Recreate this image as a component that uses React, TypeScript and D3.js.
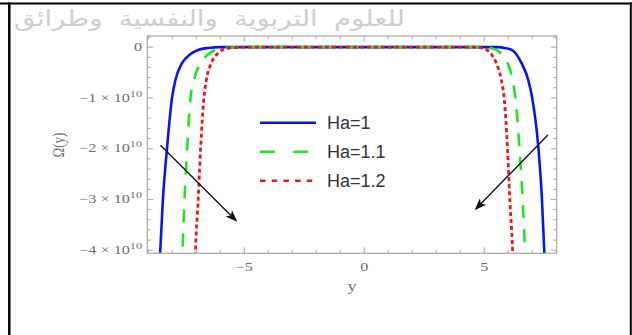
import { useRef, useEffect } from 'react'
import * as d3 from 'd3'

// Ω values in units of 1e10
const blue: [number, number][] = [
  [-8.56, -4.4], [-8.5, -4.0], [-8.39, -3.0], [-8.22, -2.0], [-8.01, -1.0], [-7.87, -0.65],
  [-7.6, -0.32], [-7.25, -0.14], [-6.9, -0.05], [-6.5, -0.015], [-6.0, 0], [5.5, 0],
  [5.9, -0.02], [6.2, -0.07], [6.55, -0.31], [6.83, -0.64], [7.0, -1.0], [7.26, -2.0],
  [7.4, -2.95], [7.5, -4.0], [7.54, -4.4],
]
const green: [number, number][] = [
  [-7.6, -4.4], [-7.56, -3.85], [-7.49, -3.0], [-7.38, -2.0], [-7.24, -1.0], [-7.1, -0.65],
  [-6.82, -0.32], [-6.45, -0.12], [-6.05, -0.04], [-5.6, -0.01], [-5.2, 0], [4.8, 0],
  [5.3, -0.02], [5.65, -0.1], [5.97, -0.31], [6.18, -0.64], [6.3, -1.0], [6.47, -2.0],
  [6.6, -3.0], [6.7, -4.0], [6.74, -4.4],
]
const red: [number, number][] = [
  [-7.06, -4.4], [-7.03, -3.97], [-6.92, -3.0], [-6.82, -2.0], [-6.68, -1.0], [-6.58, -0.65],
  [-6.38, -0.32], [-6.1, -0.12], [-5.77, -0.03], [-5.4, -0.01], [-5.0, 0], [4.5, 0],
  [4.8, -0.01], [5.05, -0.04], [5.3, -0.14], [5.5, -0.31], [5.71, -0.64], [5.83, -1.0],
  [5.97, -2.0], [6.06, -2.94], [6.18, -4.0], [6.21, -4.4],
]
const seriesNames = ['Ha=1', 'Ha=1.1', 'Ha=1.2']
const xTicks = [-5, 0, 5]
const yTicks = [0, -1, -2, -3, -4]
// annotation arrows: [x0, y0, x1, y1] in data units
const arrows = [
  [-8.49, -1.93, -5.29, -3.44],
  [7.65, -1.73, 4.6, -3.21],
]
const watermark = 'للعلوم التربوية والنفسية وطرائق'

export default function App() {
  const svgRef = useRef<SVGSVGElement>(null)

  useEffect(() => {
    const W = 632, H = 335
    const svg = d3.select(svgRef.current)
    svg.selectAll('*').remove()
    svg.attr('width', W).attr('height', H)

    const C = {
      frame: '#a8a8a8',
      tickText: '#6e6e6e',
      blue: '#0a14f0',
      green: '#1ee61e',
      red: '#f01414',
    }

    const x = d3.scaleLinear().domain([-9.04, 8.02]).range([147.3, 556.7])
    const y = d3.scaleLinear().domain([0.22, -4.06]).range([36, 253.3])
    const [x0, x1] = x.range()
    const [y0, y1] = y.range()

    svg.append('rect').attr('width', W).attr('height', H).attr('fill', '#ffffff')

    // watermark (cut at the left edge, as in the scan)
    svg.append('text').attr('transform', 'translate(405,26) scale(1.25,1)')
      .attr('direction', 'rtl').attr('text-anchor', 'start')
      .attr('font-family', 'DejaVu Sans').attr('font-size', 22).attr('word-spacing', 6)
      .attr('fill', '#cecece').text(watermark)

    // page border
    svg.append('line').attr('x1', 0).attr('x2', W).attr('y1', 3.5).attr('y2', 3.5)
      .attr('stroke', '#000').attr('stroke-width', 2)
    svg.append('line').attr('x1', 9.3).attr('x2', 9.3).attr('y1', 2.5).attr('y2', H)
      .attr('stroke', '#000').attr('stroke-width', 2.5)
    svg.append('line').attr('x1', 630.8).attr('x2', 630.8).attr('y1', 2.5).attr('y2', H)
      .attr('stroke', '#000').attr('stroke-width', 2)

    // frame ticks
    const g = svg.append('g')
    for (let v = -9; v <= 8; v++) {
      const len = v % 5 === 0 ? 6 : 3.5
      g.append('line').attr('x1', x(v)).attr('x2', x(v)).attr('y1', y1).attr('y2', y1 - len)
        .attr('stroke', C.frame).attr('stroke-width', 1)
      g.append('line').attr('x1', x(v)).attr('x2', x(v)).attr('y1', y0).attr('y2', y0 + len)
        .attr('stroke', C.frame).attr('stroke-width', 1)
    }
    for (let k = -20; k <= 1; k++) {
      const v = k * 0.2
      const len = k % 5 === 0 ? 6 : 3.5
      g.append('line').attr('x1', x0).attr('x2', x0 + len).attr('y1', y(v)).attr('y2', y(v))
        .attr('stroke', C.frame).attr('stroke-width', 1)
      g.append('line').attr('x1', x1).attr('x2', x1 - len).attr('y1', y(v)).attr('y2', y(v))
        .attr('stroke', C.frame).attr('stroke-width', 1)
    }
    g.append('rect').attr('x', x0).attr('y', y0).attr('width', x1 - x0).attr('height', y1 - y0)
      .attr('fill', 'none').attr('stroke', C.frame).attr('stroke-width', 1.2)

    // tick labels (stretched serif like the source)
    xTicks.forEach(t => {
      svg.append('text').attr('transform', `translate(${x(t)},270.7) scale(1.35,1)`)
        .attr('text-anchor', 'middle').attr('font-family', 'Liberation Serif').attr('font-size', 12)
        .attr('fill', C.tickText).text(t < 0 ? `−${-t}` : `${t}`)
    })
    yTicks.forEach(t => {
      const txt = svg.append('text').attr('transform', `translate(142,${y(t) + 3.6}) scale(1.35,1)`)
        .attr('text-anchor', 'end').attr('font-family', 'Liberation Serif').attr('font-size', 12)
        .attr('fill', C.tickText)
      if (t === 0) { txt.text('0'); return }
      txt.append('tspan').text(`−${-t} × 10`)
      txt.append('tspan').attr('font-size', 9).attr('dy', -5).text('10')
    })
    svg.append('text').attr('transform', 'translate(352,291) scale(1.3,1)')
      .attr('text-anchor', 'middle').attr('font-family', 'Liberation Serif').attr('font-size', 14)
      .attr('fill', C.tickText).text('y')
    svg.append('text').attr('transform', 'translate(64,145) scale(1.3,1) rotate(-90)')
      .attr('text-anchor', 'middle').attr('font-family', 'Liberation Serif').attr('font-size', 13)
      .attr('fill', C.tickText).text('Ω(y)')

    // curves
    svg.append('clipPath').attr('id', 'plotclip').append('rect')
      .attr('x', x0).attr('y', y0).attr('width', x1 - x0).attr('height', y1 - y0 - 0.5)
    const line = d3.line<[number, number]>().x(d => x(d[0])).y(d => y(d[1])).curve(d3.curveMonotoneX)
    const plot = svg.append('g').attr('clip-path', 'url(#plotclip)')
    const styles = [
      { data: blue, color: C.blue, width: 2.6, dash: null },
      { data: green, color: C.green, width: 2.6, dash: '13 11' },
      { data: red, color: C.red, width: 2.8, dash: '4 3' },
    ]
    styles.forEach(s => {
      const p = plot.append('path').datum(s.data).attr('d', line)
        .attr('fill', 'none').attr('stroke', s.color).attr('stroke-width', s.width)
      if (s.dash) p.attr('stroke-dasharray', s.dash)
    })

    // arrows
    arrows.forEach(([ax0, ay0, ax1, ay1]) => {
      const sx = x(ax0), sy = y(ay0), ex = x(ax1), ey = y(ay1)
      const ang = Math.atan2(ey - sy, ex - sx)
      const L = 12, Wd = 4.5
      const bx = ex - L * Math.cos(ang), by = ey - L * Math.sin(ang)
      svg.append('line').attr('x1', sx).attr('y1', sy).attr('x2', bx + 3 * Math.cos(ang)).attr('y2', by + 3 * Math.sin(ang))
        .attr('stroke', '#111').attr('stroke-width', 1.4)
      const pts = [
        [ex, ey],
        [bx + Wd * Math.sin(ang), by - Wd * Math.cos(ang)],
        [ex - (L - 3) * Math.cos(ang), ey - (L - 3) * Math.sin(ang)],
        [bx - Wd * Math.sin(ang), by + Wd * Math.cos(ang)],
      ]
      svg.append('polygon').attr('points', pts.map(p => p.join(',')).join(' ')).attr('fill', '#111')
    })

    // legend
    const legY = [122.7, 151.7, 180.7]
    const legDash = [null, '15 18.3', '5.5 6.2']
    styles.forEach((s, i) => {
      const l = svg.append('line').attr('x1', 260).attr('x2', 316).attr('y1', legY[i]).attr('y2', legY[i])
        .attr('stroke', s.color).attr('stroke-width', 2.6)
      if (legDash[i]) l.attr('stroke-dasharray', legDash[i] as string)
      svg.append('text').attr('x', 327).attr('y', legY[i] + 6.3)
        .attr('font-family', 'Liberation Sans').attr('font-size', 18).attr('fill', '#333')
        .text(seriesNames[i])
    })
  }, [])

  return (
    <svg ref={svgRef} style={{ position: 'absolute', left: 0, top: 0, display: 'block' }} />
  )
}
